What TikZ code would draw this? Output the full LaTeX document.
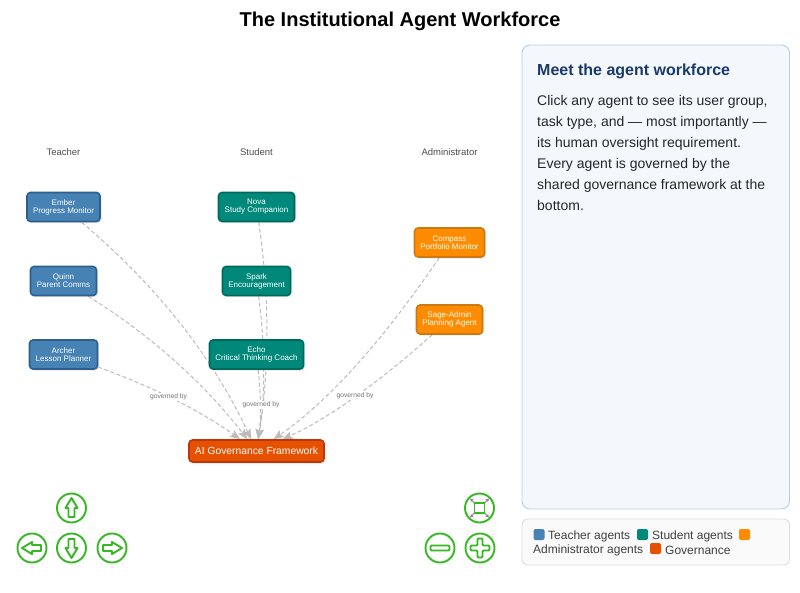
\documentclass[tikz,border=0pt]{standalone}
\usepackage{fontspec}
\setmainfont{Liberation Sans}
\usepackage{xcolor}
\usetikzlibrary{arrows.meta, shadows}
\definecolor{teacherblue}{HTML}{4682B4}
\definecolor{teacherline}{HTML}{2C5F8E}
\definecolor{studentgreen}{HTML}{00897B}
\definecolor{studentline}{HTML}{00695C}
\definecolor{adminorange}{HTML}{FF8C00}
\definecolor{adminline}{HTML}{C97A12}
\definecolor{govred}{HTML}{E65100}
\definecolor{govline}{HTML}{BF360C}
\definecolor{navgreen}{HTML}{35B821}
\definecolor{headblue}{HTML}{1A3A6B}
\definecolor{edgegray}{HTML}{BBBBBB}
\definecolor{panelfill}{HTML}{F4F8FC}
\definecolor{panelline}{HTML}{B5CDE6}
\pgfdeclarelayer{under}
\pgfsetlayers{under,main}

\begin{document}
\begin{tikzpicture}[
  x=1pt, y=-1pt,
  agent/.style={rounded corners=3.5pt, line width=1.6pt, text=white, align=center,
    minimum height=29pt, inner sep=0pt, font=\fontsize{8}{8}\selectfont,
    drop shadow={opacity=0.18, shadow xshift=1.5pt, shadow yshift=-1.5pt}},
  twoline/.style={execute at begin node={\rule{0pt}{8pt}}},
  teacher/.style={agent, twoline, fill=teacherblue, draw=teacherline},
  student/.style={agent, twoline, fill=studentgreen, draw=studentline},
  admin/.style={agent, twoline, fill=adminorange, draw=adminline},
  gov/.style={agent, fill=govred, draw=govline, minimum height=22pt,
    font=\fontsize{10.3}{10.3}\selectfont},
  collab/.style={text=black!70, font=\fontsize{9.5}{10}\selectfont},
  edge/.style={draw=edgegray, line width=1pt, dash pattern=on 4pt off 2.5pt,
    -{Stealth[length=10pt, width=8pt, inset=2pt]}},
  edgelab/.style={fill=white, inner sep=0.6pt, text=black!55, font=\fontsize{6.7}{7}\selectfont},
  navring/.style={draw=navgreen, line width=1.9pt, fill=white},
  navicon/.style={draw=navgreen, line width=1.9pt, line join=round},
  legsq/.style={rounded corners=2pt, minimum size=11pt, inner sep=0pt},
  legtext/.style={anchor=west, inner sep=0pt, text=black!75, font=\fontsize{12}{12}\selectfont},
]
  \useasboundingbox (0,0) rectangle (800,592);

  % Title
  \node[font=\fontsize{20}{22}\selectfont\bfseries] (title) at (400,21) {The Institutional Agent Workforce};

  % Column labels
  \node[collab] (colteacher) at (63.5,152) {Teacher};
  \node[collab] (colstudent) at (256.5,152) {Student};
  \node[collab] (coladmin) at (449.5,152) {Administrator};

  % Agents
  \node[teacher, minimum width=73pt] (ember) at (63.5,207) {Ember\\Progress Monitor};
  \node[teacher, minimum width=66pt] (quinn) at (63.5,281) {Quinn\\Parent Comms};
  \node[teacher, minimum width=68pt] (archer) at (63.5,354.5) {Archer\\Lesson Planner};
  \node[student, minimum width=76pt] (nova) at (256.5,207) {Nova\\Study Companion};
  \node[student, minimum width=68pt] (spark) at (256.5,281) {Spark\\Encouragement};
  \node[student, minimum width=94pt] (echo) at (256.5,354.5) {Echo\\Critical Thinking Coach};
  \node[admin, minimum width=70pt] (compass) at (449.5,242.5) {Compass\\Portfolio Monitor};
  \node[admin, minimum width=66pt] (sage) at (449.5,319.5) {Sage-Admin\\Planning Agent};
  \node[gov, minimum width=135pt] (frame) at (256.5,451) {AI Governance Framework};

  % Governed-by edges, under the agents
  \begin{pgfonlayer}{under}
    \draw[edge] (ember) .. controls (156,285) and (213,357) .. (frame);
    \draw[edge] (quinn) .. controls (150.6,335) and (203.6,382.7) .. (frame);
    \draw[edge] (archer) .. controls (153.9,387.3) and (200.5,410.9) .. (frame);
    \draw[edge] (nova) .. controls (269.3,294) and (269.7,366.3) .. (frame);
    \draw[edge] (spark) .. controls (265.3,345.3) and (265.3,393) .. (frame);
    \draw[edge] (echo) .. controls (260.7,393) and (261.3,416) .. (frame);
    \draw[edge] (compass) .. controls (382,342) and (327.3,402.2) .. (frame);
    \draw[edge] (sage) .. controls (375.4,385.1) and (326.4,419.5) .. (frame);
  \end{pgfonlayer}

  % Edge labels
  \node[edgelab] (labarcher) at (168.5,397) {governed by};
  \node[edgelab] (labecho) at (261,405) {governed by};
  \node[edgelab] (labsage) at (355,396) {governed by};

  % Pan buttons
  \foreach \x/\y/\r in {71.5/508/0, 32/548/90, 71.5/548/180, 112/548/270} {
    \draw[navring] (\x,\y) circle (14.5);
    \draw[navicon, shift={(\x,\y)}, rotate=\r]
      (0,-10) -- (6,0) -- (3,0) -- (3,9) -- (-3,9) -- (-3,0) -- (-6,0) -- cycle;
  }

  % Zoom buttons
  \draw[navring] (479.5,508) circle (14.5);
  \foreach \sx/\sy in {1/1, 1/-1, -1/1, -1/-1} {
    \draw[gray, line width=0.8pt, -{Stealth[length=3.5pt, width=3.5pt]}]
      (479.5+\sx*5,508+\sy*5) -- (479.5+\sx*9.5,508+\sy*9.5);
  }
  \draw[navicon] (474.5,503) rectangle (484.5,513);
  \draw[navring] (440,548) circle (14.5);
  \draw[navicon, rounded corners=1pt] (430.5,545.5) rectangle (449.5,550.5);
  \draw[navring] (480,548) circle (14.5);
  \draw[navicon, rounded corners=1pt, shift={(480,548)}]
    (-2.5,-9.5) -- (2.5,-9.5) -- (2.5,-2.5) -- (9.5,-2.5) -- (9.5,2.5) -- (2.5,2.5)
    -- (2.5,9.5) -- (-2.5,9.5) -- (-2.5,2.5) -- (-9.5,2.5) -- (-9.5,-2.5) -- (-2.5,-2.5) -- cycle;

  % Info panel
  \draw[fill=panelfill, draw=panelline, line width=0.9pt, rounded corners=8pt]
    (522,45) rectangle (789.5,509);
  \node[anchor=west, inner sep=0pt, text=headblue, font=\fontsize{16}{18}\selectfont\bfseries] (panelhead) at (537,71)
    {Meet the agent workforce};
  \node[anchor=north west, inner sep=0pt, align=left, text=black!85, font=\fontsize{14}{21}\selectfont] (paneltext) at (537,95.5)
    {Click any agent to see its user group,\\
     task type, and — most importantly —\\
     its human oversight requirement.\\
     Every agent is governed by the\\
     shared governance framework at the\\
     bottom.};

  % Legend
  \draw[fill=black!2, draw=black!13, line width=0.9pt, rounded corners=6pt]
    (522,519) rectangle (789.5,565);
  \node[legsq, fill=teacherblue] (legteacher) at (539,534.5) {};
  \node[legtext] (txtteacher) at (548,536) {Teacher agents};
  \node[legsq, fill=studentgreen] (legstudent) at (642.5,534.5) {};
  \node[legtext] (txtstudent) at (652,536) {Student agents};
  \node[legsq, fill=adminorange] (legadmin) at (744.5,534.5) {};
  \node[legtext] (txtadmin) at (533,550) {Administrator agents};
  \node[legsq, fill=govred] (leggov) at (655.5,548.5) {};
  \node[legtext] (txtgov) at (665,550) {Governance};
\end{tikzpicture}
\end{document}
